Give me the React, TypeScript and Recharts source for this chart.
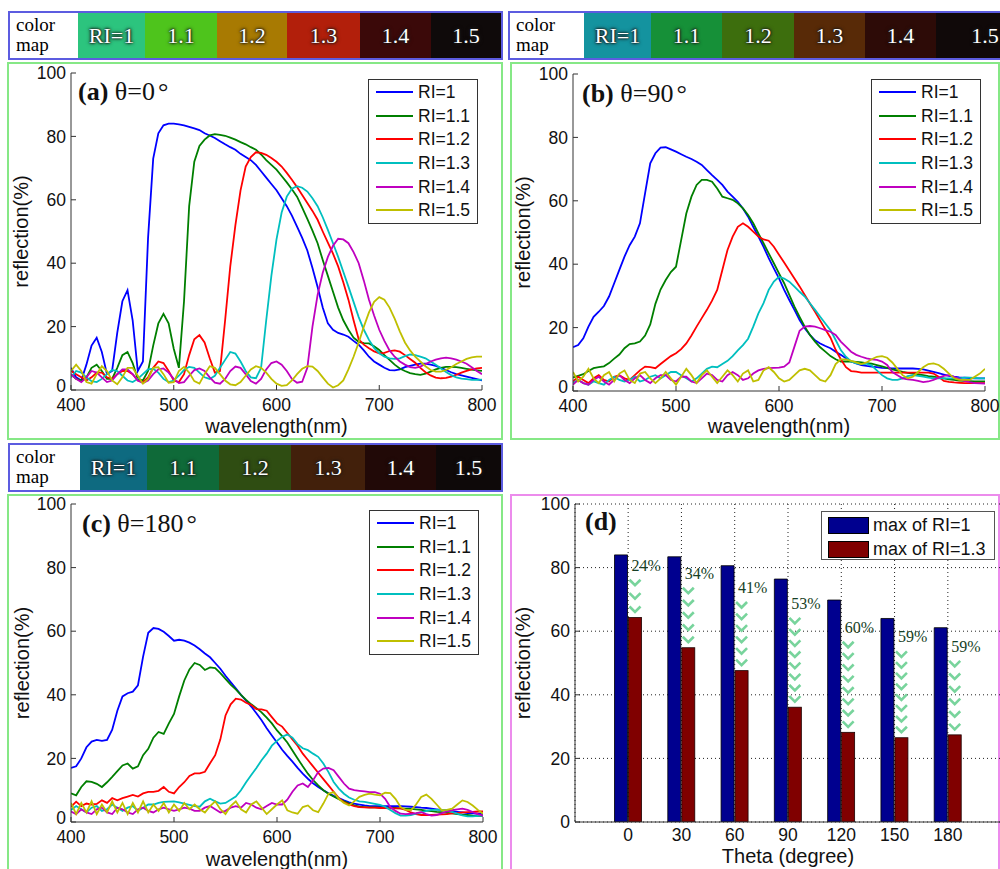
import React from 'react'
import { LineChart, Line, BarChart, Bar, XAxis, YAxis, CartesianGrid, Legend } from 'recharts'

const SANS = '"Liberation Sans", Arial, Helvetica, sans-serif'
const SERIF = '"Liberation Serif", "Times New Roman", Times, serif'
const AXIS = '#333'

const wavelength = [400, 405, 410, 415, 420, 425, 430, 435, 440, 445, 450, 455, 460, 465, 470, 475, 480, 485, 490, 495, 500, 505, 510, 515, 520, 525, 530, 535, 540, 545, 550, 555, 560, 565, 570, 575, 580, 585, 590, 595, 600, 605, 610, 615, 620, 625, 630, 635, 640, 645, 650, 655, 660, 665, 670, 675, 680, 685, 690, 695, 700, 705, 710, 715, 720, 725, 730, 735, 740, 745, 750, 755, 760, 765, 770, 775, 780, 785, 790, 795, 800]
const wavelengthTicks = [400, 500, 600, 700, 800]
const percentTicks = [0, 20, 40, 60, 80, 100]
const riNames = ['RI=1', 'RI=1.1', 'RI=1.2', 'RI=1.3', 'RI=1.4', 'RI=1.5']
const riColors = ['#0000ff', '#007f00', '#ff0000', '#00bfbf', '#bf00bf', '#bfbf00']

// rows of ten values: 400-445, 450-495, ... 750-795, 800
// (a) theta = 0
const t0RI10 = [7, 4, 3, 8, 14, 16.5, 12, 5, 6, 18,
  28, 31.5, 22, 6, 9, 48, 73, 81, 83.5, 84,
  84, 83.8, 83.5, 83, 82.5, 82, 81, 80.3, 79.5, 78.5,
  77.5, 76.6, 75.8, 74.5, 73.5, 72.5, 71, 69, 67, 65,
  63, 60.5, 58, 55, 51.5, 48, 44, 38.5, 32.5, 26,
  21, 19, 18, 17.5, 16.8, 15.5, 14.3, 12.5, 10.5, 9,
  8, 7, 6.3, 6.2, 6.5, 7.2, 7.6, 8, 8.3, 8.3,
  8, 7.6, 7, 6.3, 5.6, 5, 4.6, 4.2, 3.8, 3.4,
  3]
const t0RI11 = [5, 3.5, 3, 4, 7, 8, 6, 3.5, 3.5, 7,
  11, 12, 8.5, 3.5, 3, 6, 14, 21, 24, 21,
  13, 7, 28, 58, 72, 77, 79, 80.3, 80.7, 80.5,
  80.2, 79.6, 79, 78.2, 77.5, 76.6, 75.8, 74.3, 72.5, 71,
  69.5, 67.5, 65.5, 63.3, 61, 57.5, 54, 50.3, 46.3, 41,
  36, 31, 26, 22, 19, 16.5, 15.2, 14.8, 14.7, 13.8,
  12.6, 11, 9.5, 8, 6.8, 6, 5.3, 5, 4.8, 5.2,
  5.8, 6.5, 7, 7.3, 7.3, 7.2, 7, 6.7, 6.4, 6.2,
  6]
const t0RI12 = [6, 5, 4, 3, 4, 5.5, 5.5, 4, 3.5, 5,
  6, 6, 5, 3, 2.5, 4, 7, 9, 8.5, 6,
  3, 2.5, 5, 11, 16, 17.3, 15, 10, 5.5, 6,
  22, 39, 52, 63, 70.5, 73.5, 75, 74.8, 74.2, 73.2,
  72, 70.5, 68.5, 66.3, 64, 61.5, 59, 56.5, 53.7, 50,
  46.5, 43, 39, 34, 28.5, 22, 16, 14.3, 13.2, 12.2,
  11.6, 11.7, 12.3, 12.5, 12.1, 11, 9.8, 8.6, 7, 5.6,
  4.6, 3.9, 3.7, 3.8, 4.2, 4.8, 5.5, 6, 6.5, 6.8,
  7]
const t0RI13 = [4, 6, 5.5, 4, 2.8, 2.5, 3.5, 5, 6.3, 6,
  4.5, 3, 2.5, 3.5, 5, 6.5, 6.7, 5.5, 3.5, 2.5,
  3, 4.5, 6.3, 7.3, 7, 5.5, 4, 3.5, 4.5, 7,
  9.5, 12, 11.5, 9, 6, 4, 3.7, 7, 22, 36,
  47.5, 56, 61, 63.5, 64.3, 63.8, 62.6, 60.5, 58, 54.5,
  50.5, 46.3, 42, 37.3, 32.6, 27.8, 23, 19, 15.8, 13.3,
  11.6, 10.5, 10, 9.8, 10, 10.7, 11.2, 11, 10.5, 10,
  9, 8, 6.8, 5.7, 4.7, 4, 3.6, 3.4, 3.2, 3.2,
  3.3]
const t0RI14 = [5, 3.5, 2.5, 4, 6, 5.5, 4, 2.5, 3, 5,
  6.5, 6.5, 5, 3, 2.2, 3, 5, 6.5, 6.8, 5.5,
  3.5, 2.2, 2.5, 4.5, 6.3, 6.8, 6, 4, 2.3, 2,
  3.5, 6, 7.4, 7, 5, 2.8, 2, 3.5, 6.5, 8.5,
  9, 8, 6, 3.5, 2.3, 2.6, 7, 20, 30, 37,
  42, 45.5, 47.7, 47.5, 46.3, 43.5, 40, 34.5, 28.5, 23.5,
  19, 15.5, 12.5, 10.5, 9, 8, 7.2, 7, 7.4, 8.2,
  9, 9.6, 10, 10.2, 10, 9.6, 9, 8.3, 7.2, 6,
  5]
const t0RI15 = [6, 8, 6, 2.5, 2, 5, 7.5, 6, 3, 1.8,
  4, 7, 7, 4.5, 2, 3.5, 7, 7.2, 5, 2.3,
  2.5, 6, 7.3, 5.5, 2.8, 2, 5, 7.5, 7, 5,
  3, 1.8, 1.5, 2.5, 4.5, 6.5, 7.5, 7, 5.5, 3.5,
  2, 1.3, 1.5, 3, 5, 6.7, 7.5, 7.4, 6, 4,
  2, 0.8, 1.5, 3, 6.5, 10.5, 15, 20, 24.5, 27.8,
  29.3, 28.5, 26, 22.5, 18.5, 15, 12.5, 10.5, 9, 7.5,
  6.3, 5.8, 5.8, 6.3, 7.2, 8.2, 9, 9.8, 10.3, 10.5,
  10.5]

// (b) theta = 90
const t90RI10 = [13.8, 14.5, 16.6, 20.3, 23.4, 25, 26.8, 29.8, 34, 38.2,
  42.4, 46, 48.7, 52.9, 62.4, 71.8, 75, 76.8, 76.9, 76.2,
  75.5, 74.7, 73.9, 73.2, 72.3, 71.3, 69.7, 68.1, 66.6, 65,
  62.9, 61.3, 59.7, 57.6, 55, 51.8, 48.7, 45.5, 41.9, 38.7,
  35.5, 31.9, 28.7, 25.6, 22.4, 19.8, 17.7, 16, 15, 14.2,
  13.5, 12.4, 11.4, 10.3, 9.3, 8.7, 8.2, 7.9, 7.7, 7.5,
  7.3, 7.2, 7.1, 7.1, 7.1, 7.1, 7.1, 7, 6.8, 6.4,
  6, 5.6, 5.2, 4.8, 4.5, 4.3, 4.2, 4.1, 4, 4,
  4]
const t90RI11 = [4.3, 4.8, 5.3, 6.3, 7.2, 7.5, 7.8, 8.8, 10.2, 11.5,
  13.5, 14.8, 15, 15.6, 17.5, 21, 27.5, 32, 35, 37.5,
  39.2, 47.6, 56, 61.3, 65, 66.6, 66.6, 66, 63.9, 61.3,
  60.8, 60.3, 59.2, 57.6, 55.5, 52.9, 49.7, 46.6, 43.4, 40.3,
  37.1, 34, 30.3, 26.6, 23.4, 20.3, 17.7, 15.6, 13.8, 12.4,
  11, 10, 9.3, 9.3, 9.3, 9.2, 9, 8.8, 8.6, 8.2,
  7.8, 7.3, 6.8, 6.4, 6, 5.7, 5.5, 5.2, 5, 4.7,
  4.5, 4.2, 4, 3.7, 3.5, 3.3, 3.2, 3.1, 3, 3,
  3]
const t90RI12 = [3, 4.5, 3.5, 2.5, 4, 5, 3.5, 3, 4.5, 5,
  4, 3.5, 5, 6.5, 7.7, 7.5, 7.2, 8.5, 9.8, 11,
  11.9, 13.2, 15, 17.5, 20.3, 23, 25.6, 28.5, 31.9, 38.2,
  44.5, 48.7, 51.8, 52.9, 51.8, 50.3, 48.7, 47.8, 47.4, 45.5,
  43, 40.5, 38, 35.5, 33, 30.3, 27.6, 25, 22.2, 19.5,
  16.8, 13, 10, 7.5, 6.3, 6.1, 5.8, 5.8, 5.8, 5.8,
  5.8, 5.8, 5.8, 5.8, 5.8, 5.8, 5.8, 5.8, 5.8, 5.8,
  5.5, 4.5, 3.2, 2.9, 2.7, 2.6, 2.5, 2.5, 2.5, 2.5,
  2.5]
const t90RI13 = [2.5, 3.5, 2.5, 2, 3, 2.5, 2, 3.5, 4.5, 3.5,
  3, 3.5, 4.5, 3, 3.5, 4.5, 5, 4, 5, 6,
  6, 5, 4, 3, 4, 5.5, 7, 7.7, 7.5, 8.5,
  9.5, 11, 12.8, 14.5, 16.5, 20.3, 24.5, 27.7, 31.9, 34.5,
  36, 35.5, 34.5, 32.9, 31.3, 29.8, 27.7, 25.6, 23.4, 21.3,
  19.2, 16.1, 12.9, 10.8, 9.3, 8.7, 8.5, 8.6, 8, 6.5,
  5, 4, 3.5, 3.5, 4, 4.7, 5, 4.8, 4.5, 4.2,
  4, 4, 4, 4, 4, 4, 4.2, 4.2, 4.1, 4,
  4]
const t90RI14 = [2, 3.5, 2.5, 2, 3.5, 4.5, 3, 2, 3.5, 5,
  3.5, 2.5, 4, 5, 3.5, 2.5, 4, 5, 5, 3.5,
  3, 4.5, 4.5, 3, 2.5, 4, 5.5, 5, 3.5, 3,
  5, 6, 5, 3.5, 4, 5.5, 6.5, 7, 7.2, 7.3,
  7.4, 7.7, 9, 14, 19, 20.3, 20.5, 20.3, 19.8, 19.2,
  18.7, 17.7, 15.6, 14, 12.4, 11.4, 10.8, 10.3, 10, 9.8,
  9.3, 8.2, 6, 5, 4, 3.7, 3.5, 3.2, 2.8, 3,
  3.5, 4.2, 4.8, 5, 4.5, 3.8, 3.2, 2.8, 2.5, 2.4,
  2.3]
const t90RI15 = [6, 3, 4.5, 7, 4, 2.5, 5, 6, 3, 5.5,
  6.5, 3.5, 2.5, 5.5, 6, 4, 2.5, 4, 6, 4,
  2, 4.5, 7, 5, 2.5, 5, 6.5, 4.5, 2.5, 4.5,
  6.5, 5, 3, 5.5, 6.5, 3, 3.5, 6.5, 7.5, 6,
  4, 3, 3.5, 5, 6.5, 7, 6.5, 5, 3.5, 3,
  5, 8.5, 10, 10, 9.5, 9, 8.5, 9, 10, 10.8,
  11, 10.5, 9, 7, 5, 4, 4.5, 6, 7.5, 8.5,
  8.7, 8.2, 7, 5.5, 4, 3.5, 3.5, 3.5, 4.5, 5.5,
  7]

// (c) theta = 180
const t180RI10 = [17, 17.5, 20, 23.5, 25.3, 25.8, 25.5, 25.8, 29, 35,
  39.5, 40.5, 41, 43, 52, 59.5, 61, 60.7, 59.8, 58.5,
  57, 57.3, 57, 56.4, 55.5, 54.3, 53, 51.8, 50, 48.2,
  46, 44, 42, 40, 38.2, 36.3, 34.2, 32, 29.5, 27.2,
  25, 22.7, 20.8, 19, 17, 15.2, 13.6, 12.2, 11, 10,
  9, 8.2, 7.5, 6.8, 6.2, 5.8, 5.5, 5.2, 5, 5,
  5, 5, 5, 5, 5, 4.9, 4.8, 4.7, 4.5, 4.4,
  4.2, 4, 3.8, 3.6, 3.4, 3.2, 3, 2.8, 2.7, 2.6,
  2.5]
const t180RI11 = [9, 8.4, 11, 12.8, 12.6, 12, 11, 12.5, 14.2, 16,
  17.8, 18.4, 16.8, 17.5, 21, 23, 26.5, 28.3, 27.7, 31,
  34, 39.5, 44.5, 48, 50, 49.4, 47.8, 48.6, 48.4, 46.8,
  45, 43.2, 41.7, 40, 38.4, 37, 35.8, 34.5, 32.8, 31,
  28.8, 27, 25, 22.5, 20, 17.5, 15.2, 13.2, 11.5, 10,
  8.9, 8, 7.2, 6.5, 5.8, 5.2, 4.8, 4.7, 4.6, 4.6,
  4.5, 4.5, 4.4, 4.4, 4.3, 4.2, 4.1, 4, 3.8, 3.6,
  3.4, 3.2, 3.1, 2.9, 2.7, 2.5, 2.3, 2.2, 2, 1.9,
  1.9]
const t180RI12 = [4.8, 6.4, 5, 5.8, 5.5, 5.7, 6.8, 6, 7.5, 6.8,
  7.5, 8, 8.5, 8, 9, 9.5, 9.5, 9.8, 11, 9.5,
  9, 11, 12.5, 14.5, 15.3, 15.3, 15.8, 18.5, 21, 26,
  33.5, 37, 38.8, 38.5, 37.5, 36.8, 35.5, 35.4, 35, 33,
  31, 30, 28, 26, 24, 21.5, 19.5, 17.5, 15.5, 13.5,
  11.5, 9.5, 7.5, 6.2, 5.5, 5, 4.7, 4.6, 4.5, 4.5,
  4.4, 4.4, 4.3, 4.3, 4.3, 3.8, 3, 2.5, 2.2, 2.2,
  2.2, 2.3, 2.4, 2.5, 2.7, 2.8, 3, 3.1, 3.2, 3.3,
  3.3]
const t180RI13 = [3.8, 5, 4, 3, 4.5, 5, 3.5, 4, 5.5, 4.5,
  3.5, 4.5, 5, 3.5, 4.5, 5.5, 5.5, 6, 6.3, 6.4,
  6.5, 6.2, 5.8, 5.4, 5, 4.8, 6.5, 7.3, 6.5, 5.8,
  6, 7, 8, 10, 12.5, 14.8, 17, 19.4, 21.5, 24,
  25.5, 26.8, 27.5, 26.5, 24.5, 23.2, 22.6, 21.5, 20.5, 18.4,
  15.7, 12.6, 10.5, 8.9, 7.7, 7, 6.5, 6.3, 6, 5.7,
  5.4, 4.8, 3.8, 2.8, 2, 2, 2.2, 2.6, 3, 3.5,
  3.8, 3.8, 3.8, 3.7, 3.2, 2.6, 2.1, 1.8, 1.8, 1.9,
  2]
const t180RI14 = [3.3, 2.5, 4, 3, 2.5, 4, 4.5, 3, 2.5, 4.5,
  4, 3, 2.5, 4, 4.5, 3.5, 3, 4, 4.5, 4,
  3.5, 4, 4.5, 4.2, 3.5, 3.5, 4.5, 5, 4, 3,
  3.5, 4.5, 5, 4.5, 6, 5.5, 4.5, 4, 5, 6,
  5.5, 5.5, 7, 9.5, 11.5, 12.1, 11, 13.1, 15.7, 16.8,
  17, 16.3, 14.2, 12.1, 10.5, 10, 9.8, 9.6, 9.4, 9.4,
  8.9, 7.3, 4.7, 3.5, 2.6, 2.5, 2.6, 2.8, 3.1, 2.5,
  2, 2.2, 2.8, 3.3, 3.7, 4, 4.2, 3.8, 3.1, 2.5,
  2]
const t180RI15 = [6, 2.5, 6, 3, 6.5, 2.5, 5.5, 3, 6.5, 3,
  6, 2.5, 6, 3, 6.5, 3, 5.5, 3.5, 6, 3,
  5.5, 3.5, 6, 4, 5.5, 4, 3, 5, 6.5, 4,
  2.5, 5, 6.5, 4, 3, 5.5, 6.5, 4.5, 2.5, 4,
  5.5, 6.8, 3.7, 3, 2.6, 4.7, 5.2, 3.7, 3.1, 5.8,
  8.9, 9.4, 7.3, 6, 5.2, 6.5, 7.9, 8.5, 8.9, 8.6,
  8.4, 9.2, 9.1, 7.3, 4.7, 3.8, 3.7, 5.5, 7.9, 8.6,
  7.3, 5.5, 3.7, 3.8, 4.2, 5.5, 6.8, 6.3, 5.2, 3.8,
  2.6]

// (d) peak reflection against theta
const thetaLabels = ['0', '30', '60', '90', '120', '150', '180']
const peakRI10 = [84, 83.4, 80.6, 76.4, 69.8, 64, 61.1]
const peakRI13 = [64.3, 54.8, 47.6, 36.1, 28.2, 26.5, 27.4]
const dropLabels = ['24%', '34%', '41%', '53%', '60%', '59%', '59%']
const dropLabelLevel = [79, 76.5, 72, 67, 59.5, 56.5, 53.5]

// colour-map strips
const keyLabels = ['RI=1', '1.1', '1.2', '1.3', '1.4', '1.5']
const keyColorsA = ['#2cc47e', '#4ec41c', '#a87a02', '#b21f0b', '#3b0909', '#0f0a0a']
const keyColorsB = ['#14939f', '#169038', '#3d6e0d', '#582a07', '#2d0b07', '#100909']
const keyColorsC = ['#0e6a80', '#0f6a39', '#2f4d12', '#42200b', '#210907', '#0e0909']

const tickFont = { fill: '#111', fontSize: 17.5, fontFamily: SANS }
const titleFont = { fill: '#111', fontSize: 20, fontFamily: SANS }

// y tick label; the 0 sits a little higher so it clears the first wavelength label
function PercentTick(props: any) {
  const { x, y, payload } = props
  const lift = payload.value === 0 ? -4 : 0
  return (
    <text x={x} y={y + lift} dy="0.355em" textAnchor="end" fill={tickFont.fill} fontSize={tickFont.fontSize} fontFamily={SANS}>
      {payload.value}
    </text>
  )
}

function ColorKey({ left, top, widths, colors }: { left: number; top: number; widths: number[]; colors: string[] }) {
  return (
    <div style={{ position: 'absolute', left, top, height: 45, border: '2px solid #5c5ce0', display: 'flex', background: '#fff', whiteSpace: 'nowrap' }}>
      <div style={{ width: widths[0], height: 45, fontFamily: SERIF, fontSize: 19, lineHeight: '20px', paddingLeft: 6, paddingTop: 2, boxSizing: 'border-box', color: '#000' }}>
        <div>color</div>
        <div>map</div>
      </div>
      {keyLabels.map((label, i) => (
        <div key={label} style={{ width: widths[i + 1], height: 45, background: colors[i], display: 'flex', alignItems: 'center', justifyContent: 'center', fontFamily: SERIF, fontSize: 22, color: '#fff', textShadow: '0 0 2px #111, 0 0 3px #111, 0 0 4px #333' }}>
          {label}
        </div>
      ))}
    </div>
  )
}

function LineKey(props: any) {
  const payload = props.payload || []
  return (
    <div style={{ border: '1px solid #333', background: '#fff', width: 108, height: 143, boxSizing: 'content-box' }}>
      {payload.map((p: any) => (
        <div key={p.value} style={{ height: 23.7, display: 'flex', alignItems: 'center' }}>
          <span style={{ display: 'inline-block', width: 37, height: 2, background: p.color, marginLeft: 7 }} />
          <span style={{ marginLeft: 5, fontFamily: SANS, fontSize: 17.5, color: '#111', lineHeight: '20px' }}>{p.value}</span>
        </div>
      ))}
    </div>
  )
}

function BarKey(props: any) {
  const payload = props.payload || []
  return (
    <div style={{ border: '1px solid #555', background: '#fff', width: 174, height: 49, paddingTop: 1, boxSizing: 'border-box' }}>
      {payload.map((p: any) => (
        <div key={p.value} style={{ height: 24, display: 'flex', alignItems: 'center' }}>
          <span style={{ display: 'inline-block', width: 39, height: 15, background: p.color, border: '1px solid #000', marginLeft: 6 }} />
          <span style={{ marginLeft: 4, fontFamily: SANS, fontSize: 18, color: '#111', lineHeight: '20px' }}>{p.value}</span>
        </div>
      ))}
    </div>
  )
}

interface PanelProps {
  series: number[][]
  left: number
  top: number
  width: number
  height: number
  margin: { top: number; right: number; bottom: number; left: number }
  axisHeight: number
  xTitleOffset: number
  yTitleOffset: number
  legendAt: [number, number]
}

function SpectrumPanel({ series, left, top, width, height, margin, axisHeight, xTitleOffset, yTitleOffset, legendAt }: PanelProps) {
  const rows = wavelength.map((wl, i) => {
    const row: Record<string, number> = { wl }
    series.forEach((s, k) => {
      row['ri' + k] = s[i]
    })
    return row
  })

  return (
    <div style={{ position: 'absolute', left, top }}>
      <LineChart width={width} height={height} data={rows} margin={margin}>
        <XAxis
          xAxisId="b"
          dataKey="wl"
          type="number"
          domain={[400, 800]}
          ticks={wavelengthTicks}
          interval={0}
          allowDataOverflow
          height={axisHeight}
          stroke={AXIS}
          tickSize={-5}
          tickMargin={14}
          tick={tickFont}
          label={{ value: 'wavelength(nm)', position: 'insideBottom', offset: xTitleOffset, ...titleFont }}
        />
        <XAxis xAxisId="t" orientation="top" dataKey="wl" type="number" domain={[400, 800]} ticks={wavelengthTicks} interval={0} allowDataOverflow height={0} stroke={AXIS} tickSize={-5} tick={false} />
        <YAxis
          yAxisId="l"
          type="number"
          domain={[0, 100]}
          ticks={percentTicks}
          interval={0}
          allowDataOverflow
          width={40}
          stroke={AXIS}
          tickSize={-5}
          tickMargin={10}
          tick={PercentTick}
          label={{ value: 'reflection(%)', angle: -90, position: 'insideLeft', offset: yTitleOffset, ...titleFont, style: { textAnchor: 'middle' } }}
        />
        <YAxis yAxisId="r" orientation="right" type="number" domain={[0, 100]} ticks={percentTicks} interval={0} allowDataOverflow width={0} stroke={AXIS} tickSize={-5} tick={false} />
        <Legend
          layout="vertical"
          align="center"
          verticalAlign="middle"
          wrapperStyle={{ left: legendAt[0], top: legendAt[1], width: 'auto', height: 'auto' }}
          content={(p: any) => <LineKey {...p} />}
        />
        {series.map((_, k) => (
          <Line
            key={k}
            xAxisId="b"
            yAxisId="l"
            type="linear"
            dataKey={'ri' + k}
            name={riNames[k]}
            stroke={riColors[k]}
            strokeWidth={1.8}
            dot={false}
            activeDot={false}
            isAnimationActive={false}
          />
        ))}
      </LineChart>
    </div>
  )
}

function DropBar(props: any) {
  const { x, y, width, height, payload } = props
  const base = y + height
  const perUnit = height / payload.ri13
  const labelY = base - payload.dropAt * perUnit
  const first = labelY + 12
  const last = y - 8
  const count = Math.max(1, Math.floor((last - first) / 10.5) + 1)
  const step = count > 1 ? (last - first) / (count - 1) : 0
  const cx = x + width / 2
  const marks = []
  for (let i = 0; i < count; i++) {
    const cy = first + i * step
    marks.push(
      <polyline key={i} points={`${cx - 5.5},${cy - 3} ${cx},${cy + 2.5} ${cx + 5.5},${cy - 3}`} fill="none" stroke="#78d49c" strokeWidth={2.6} />
    )
  }
  return (
    <g>
      <rect x={x} y={y} width={width} height={height} fill="#800000" stroke="#1a0000" strokeWidth={0.8} />
      {marks}
      <text x={x + 3} y={labelY} fontFamily={SERIF} fontSize={16} fill="#173f26">{payload.drop}</text>
    </g>
  )
}

function ThetaPanel() {
  const rows = thetaLabels.map((theta, i) => ({
    theta,
    ri1: peakRI10[i],
    ri13: peakRI13[i],
    drop: dropLabels[i],
    dropAt: dropLabelLevel[i],
  }))
  const pad = { left: 26.5, right: 26.5 }

  return (
    <div style={{ position: 'absolute', left: 505, top: 494 }}>
      <BarChart width={500} height={375} data={rows} margin={{ top: 10, right: 4, bottom: 0, left: 30 }} barGap={1} barSize={13}>
        <CartesianGrid xAxisId="b" yAxisId="l" stroke="#222" strokeDasharray="1 3" />
        <XAxis
          xAxisId="b"
          dataKey="theta"
          padding={pad}
          interval={0}
          height={47}
          stroke={AXIS}
          tickSize={-5}
          tickMargin={12}
          tick={tickFont}
          label={{ value: 'Theta (degree)', position: 'insideBottom', offset: 6, ...titleFont }}
        />
        <XAxis xAxisId="t" orientation="top" dataKey="theta" padding={pad} interval={0} height={0} stroke={AXIS} tickSize={-5} tick={false} />
        <YAxis
          yAxisId="l"
          type="number"
          domain={[0, 100]}
          ticks={percentTicks}
          interval={0}
          allowDataOverflow
          width={40}
          stroke={AXIS}
          tickSize={-5}
          tickMargin={10}
          tick={tickFont}
          label={{ value: 'reflection(%)', angle: -90, position: 'insideLeft', offset: -12, ...titleFont, style: { textAnchor: 'middle' } }}
        />
        <Legend
          layout="vertical"
          align="center"
          verticalAlign="middle"
          wrapperStyle={{ left: 316, top: 17, width: 'auto', height: 'auto' }}
          content={(p: any) => <BarKey {...p} />}
        />
        <Bar xAxisId="b" yAxisId="l" dataKey="ri1" name="max of RI=1" fill="#00008f" stroke="#000" strokeWidth={0.8} isAnimationActive={false} />
        <Bar xAxisId="b" yAxisId="l" dataKey="ri13" name="max of RI=1.3" fill="#800000" shape={DropBar} isAnimationActive={false} />
      </BarChart>
    </div>
  )
}

function Frame({ left, top, width, height, color }: { left: number; top: number; width: number; height: number; color: string }) {
  return <div style={{ position: 'absolute', left, top, width, height, border: `2px solid ${color}`, boxSizing: 'border-box' }} />
}

export default function App() {
  const green = '#86e886'
  return (
    <div style={{ position: 'absolute', left: 0, top: 0, width: 1000, height: 869, overflow: 'hidden', background: '#fff' }}>
      <Frame left={7} top={62} width={496} height={378} color={green} />
      <Frame left={510} top={62} width={490} height={378} color={green} />
      <Frame left={7} top={494} width={496} height={380} color={green} />
      <Frame left={510} top={494} width={490} height={380} color="#ec8cec" />

      <ColorKey left={8} top={11} widths={[68, 67, 72, 70, 73, 71, 70]} colors={keyColorsA} />
      <ColorKey left={508} top={11} widths={[74, 67, 71, 72, 71, 71, 98]} colors={keyColorsB} />
      <ColorKey left={8} top={443} widths={[70, 67, 72, 72, 74, 71, 65]} colors={keyColorsC} />

      <SpectrumPanel
        series={[t0RI10, t0RI11, t0RI12, t0RI13, t0RI14, t0RI15]}
        left={0} top={62} width={503} height={377}
        margin={{ top: 11, right: 21, bottom: 0, left: 31 }}
        axisHeight={49} xTitleOffset={6} yTitleOffset={-10} legendAt={[368, 17]}
      />
      <SpectrumPanel
        series={[t90RI10, t90RI11, t90RI12, t90RI13, t90RI14, t90RI15]}
        left={505} top={62} width={500} height={377}
        margin={{ top: 12, right: 20, bottom: 0, left: 28 }}
        axisHeight={48} xTitleOffset={6} yTitleOffset={-10} legendAt={[366, 17]}
      />
      <SpectrumPanel
        series={[t180RI10, t180RI11, t180RI12, t180RI13, t180RI14, t180RI15]}
        left={0} top={494} width={503} height={375}
        margin={{ top: 10, right: 20, bottom: 0, left: 31 }}
        axisHeight={47} xTitleOffset={3} yTitleOffset={-9} legendAt={[369, 16]}
      />
      <ThetaPanel />

      <svg width={1000} height={869} style={{ position: 'absolute', left: 0, top: 0, pointerEvents: 'none' }}>
        <g fontFamily={SERIF} fontSize={26} fill="#111">
          <text x={78} y={100}><tspan fontWeight="bold">(a)</tspan> θ=0<tspan dx={3}>°</tspan></text>
          <text x={582} y={102}><tspan fontWeight="bold">(b)</tspan> θ=90<tspan dx={3}>°</tspan></text>
          <text x={82} y={532}><tspan fontWeight="bold">(c)</tspan> θ=180<tspan dx={3}>°</tspan></text>
          <text x={585} y={530} fontWeight="bold">(d)</text>
        </g>
      </svg>
    </div>
  )
}
